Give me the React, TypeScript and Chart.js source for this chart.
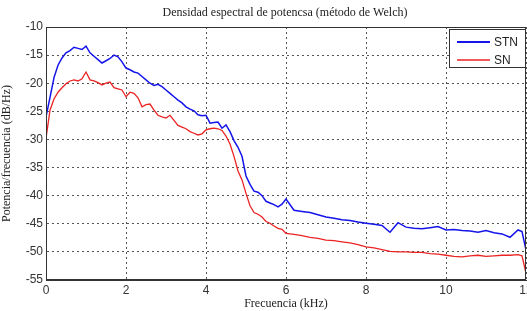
import React, { useEffect, useRef } from "react";
import { Chart, registerables } from "chart.js";

Chart.register(...registerables);

const TITLE = "Densidad espectral de potencsa (método de Welch)";
const X_TITLE = "Frecuencia (kHz)";
const Y_TITLE = "Potencia/frecuencia (dB/Hz)";
const SERIES_NAMES = ["STN", "SN"];

const FREQ = [
  0.0, 0.1, 0.2, 0.3, 0.4, 0.5, 0.6, 0.7, 0.8, 0.9,
  1.0, 1.1, 1.2, 1.3, 1.4, 1.5, 1.6, 1.7, 1.8, 1.9,
  2.0, 2.1, 2.2, 2.3, 2.4, 2.5, 2.6, 2.7, 2.8, 2.9,
  3.0, 3.1, 3.2, 3.3, 3.4, 3.5, 3.6, 3.7, 3.8, 3.9,
  4.0, 4.1, 4.2, 4.3, 4.4, 4.5, 4.6, 4.7, 4.8, 4.9,
  5.0, 5.1, 5.2, 5.3, 5.4, 5.5, 5.6, 5.7, 5.8, 5.9,
  6.0, 6.2, 6.4, 6.6, 6.8, 7.0, 7.2, 7.4, 7.6, 7.8,
  8.0, 8.2, 8.4, 8.6, 8.8, 9.0, 9.2, 9.4, 9.6, 9.8,
  10.0, 10.2, 10.4, 10.6, 10.8, 11.0, 11.2, 11.4, 11.6, 11.8,
  11.9, 12.0,
];

const STN = [
  -26.0, -22.5, -19.0, -16.8, -15.5, -14.6, -14.2, -13.6, -13.8, -14.0,
  -13.4, -14.6, -15.2, -15.8, -16.4, -16.0, -15.6, -15.0, -15.3, -16.2,
  -17.3, -17.6, -18.0, -18.2, -18.8, -19.4, -20.0, -20.4, -20.2, -20.6,
  -21.2, -21.8, -22.4, -23.0, -23.5, -24.2, -24.6, -24.9, -25.6, -25.8,
  -25.7, -27.1, -27.0, -26.9, -28.0, -27.4, -28.6, -30.2, -31.4, -33.0,
  -36.5, -38.0, -39.2, -39.4, -40.0, -41.0, -41.3, -41.6, -42.0, -41.5,
  -40.6, -42.6, -42.8, -43.0, -43.4, -43.8, -44.0, -44.3, -44.4, -44.7,
  -44.9, -45.1, -45.3, -46.5, -44.8, -45.6, -45.8, -45.9, -45.7, -45.5,
  -46.1, -46.0, -46.2, -46.3, -46.5, -46.2, -46.6, -46.8, -47.4, -46.1,
  -46.4, -49.7,
];

const SN = [
  -29.8, -24.8, -22.8, -21.6, -20.8, -20.1, -19.6, -19.4, -19.6, -19.2,
  -18.0, -19.4, -19.6, -19.9, -20.3, -20.0, -19.8, -20.8, -21.0, -21.2,
  -22.4, -21.6, -21.8, -22.6, -24.2, -23.8, -23.7, -24.8, -25.7, -26.0,
  -26.2, -25.7, -26.6, -27.5, -27.8, -28.1, -28.6, -28.9, -29.2, -29.0,
  -28.3, -28.1, -28.0, -28.1, -28.4, -29.4, -30.8, -33.0, -35.6, -37.2,
  -39.6, -41.8, -43.0, -43.3, -43.8, -44.6, -44.9, -45.4, -45.8, -46.0,
  -46.7, -46.9, -47.1, -47.4, -47.6, -47.9, -48.0, -48.2, -48.4, -48.7,
  -49.1, -49.3, -49.6, -49.9, -50.0, -50.0, -50.1, -50.1, -50.3, -50.4,
  -50.6, -50.8, -50.9, -50.7, -50.6, -50.8, -50.7, -50.6, -50.6, -50.5,
  -50.7, -53.8,
];

const X_MIN = 0, X_MAX = 12, X_STEP = 2;
const Y_MIN = -55, Y_MAX = -10, Y_STEP = 5;

const BLUE = "rgb(20,20,235)";
const RED = "rgb(235,35,35)";

const decorPlugin = {
  id: "decor",
  afterDraw(chart: any) {
    const { ctx, chartArea } = chart;
    const { left, right, top, bottom } = chartArea;
    ctx.save();
    ctx.strokeStyle = "#333";
    ctx.lineWidth = 1;
    ctx.strokeRect(left + 0.5, top + 0.5, right - left - 1, bottom - top - 1);
    ctx.fillStyle = "#222";
    ctx.font = "12px 'Liberation Serif', serif";
    ctx.textAlign = "center";
    ctx.textBaseline = "middle";
    ctx.fillText(TITLE, 285, 13);
    const lx = 449, ly = 29, lw = 77, lh = 39;
    ctx.fillStyle = "#fff";
    ctx.fillRect(lx, ly, lw, lh);
    ctx.strokeStyle = "#333";
    ctx.strokeRect(lx + 0.5, ly + 0.5, lw - 1, lh - 1);
    const rows = [
      { name: SERIES_NAMES[0], color: BLUE, y: 42, w: 2 },
      { name: SERIES_NAMES[1], color: RED, y: 60, w: 1.3 },
    ];
    ctx.font = "12px 'Liberation Sans', Arial, sans-serif";
    ctx.textAlign = "left";
    for (const r of rows) {
      ctx.strokeStyle = r.color;
      ctx.lineWidth = r.w;
      ctx.beginPath();
      ctx.moveTo(457, r.y);
      ctx.lineTo(490, r.y);
      ctx.stroke();
      ctx.fillStyle = "#222";
      ctx.fillText(r.name, 494, r.y + 1);
    }
    ctx.restore();
  },
};

export default function App() {
  const ref = useRef<HTMLCanvasElement | null>(null);
  useEffect(() => {
    document.body.style.margin = "0";
    const canvas = ref.current;
    if (!canvas) return;
    const chart = new Chart(canvas, {
      type: "line",
      data: {
        datasets: [
          {
            label: SERIES_NAMES[0],
            data: FREQ.map((f, i) => ({ x: f, y: STN[i] })),
            borderColor: BLUE,
            borderWidth: 1.5,
            pointRadius: 0,
            tension: 0,
          },
          {
            label: SERIES_NAMES[1],
            data: FREQ.map((f, i) => ({ x: f, y: SN[i] })),
            borderColor: RED,
            borderWidth: 1.3,
            pointRadius: 0,
            tension: 0,
          },
        ],
      },
      options: {
        animation: false,
        responsive: false,
        devicePixelRatio: 1,
        layout: { padding: { top: 27, right: 1, left: 0, bottom: 0 } },
        plugins: {
          legend: { display: false },
          title: { display: false },
          tooltip: { enabled: false },
        },
        scales: {
          x: {
            type: "linear",
            min: X_MIN,
            max: X_MAX,
            afterFit: (s: any) => { s.height = 31; s.paddingRight = 0; s.paddingLeft = 0; },
            ticks: {
              stepSize: X_STEP,
              color: "#333",
              font: { family: "'Liberation Sans', Arial, sans-serif", size: 12 },
              padding: 3,
              maxRotation: 0,
            },
            grid: {
              color: "#555",
              lineWidth: 1,
              drawTicks: false,
            },
            border: { display: true, color: "#333", dash: [2, 3] },
            title: {
              display: true,
              text: X_TITLE,
              color: "#222",
              font: { family: "'Liberation Serif', serif", size: 12 },
              padding: { top: 0, bottom: 0 },
            },
          },
          y: {
            type: "linear",
            min: Y_MIN,
            max: Y_MAX,
            afterFit: (s: any) => { s.width = 46; },
            ticks: {
              stepSize: Y_STEP,
              color: "#333",
              font: { family: "'Liberation Sans', Arial, sans-serif", size: 12 },
              padding: 3,
            },
            grid: {
              color: "#555",
              lineWidth: 1,
              drawTicks: false,
            },
            border: { display: true, color: "#333", dash: [2, 3] },
            title: {
              display: true,
              text: Y_TITLE,
              color: "#222",
              font: { family: "'Liberation Serif', serif", size: 12 },
              padding: { top: 0, bottom: 0 },
            },
          },
        },
      } as any,
      plugins: [decorPlugin],
    });
    return () => chart.destroy();
  }, []);
  return (
    <div style={{ position: "fixed", left: 0, top: 0, width: 527, height: 311, background: "#fff" }}>
      <canvas ref={ref} width={527} height={311} style={{ width: 527, height: 311 }} />
    </div>
  );
}
